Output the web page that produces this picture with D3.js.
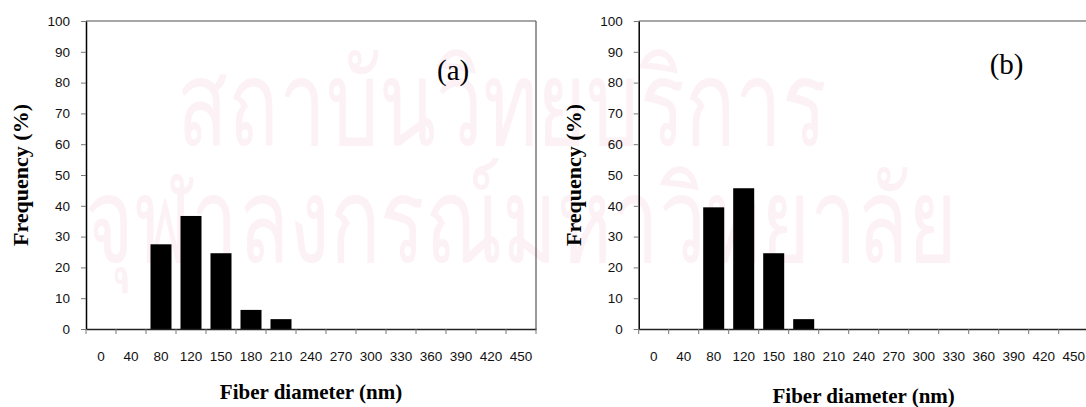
<!DOCTYPE html>
<html>
<head>
<meta charset="utf-8">
<script src="https://cdn.jsdelivr.net/npm/d3@7"></script>
<style>
  body { margin: 0; background: #fff; }
  svg { display: block; }
</style>
</head>
<body>
<svg id="chart" width="1086" height="407"></svg>
<script>
////////// data
var categories = ["0","40","80","120","150","180","210","240","270","300","330","360","390","420","450"];
var freqA = [0, 0, 27.5, 36.7, 24.6, 6.2, 3.2, 0, 0, 0, 0, 0, 0, 0, 0];
var freqB = [0, 0, 39.5, 45.7, 24.6, 3.2, 0, 0, 0, 0, 0, 0, 0, 0, 0];
var yTicks = [0, 10, 20, 30, 40, 50, 60, 70, 80, 90, 100];
var panelLabels = ["(a)", "(b)"];
var watermark = ["สถาบันวิทยบริการ", "จุฬาลงกรณ์มหาวิทยาลัย"];

var svg = d3.select("#chart");
var W = 450, H = 308, TOP = 21;

// faint watermark behind everything (scanned page)
svg.append("text")
  .attr("x", 177).attr("y", 145)
  .attr("textLength", 650).attr("lengthAdjust", "spacingAndGlyphs")
  .style("font-family", "'Noto Sans', 'DejaVu Sans', sans-serif")
  .style("font-size", "119px")
  .style("fill", "#fcf1f5")
  .text(watermark[0]);
svg.append("text")
  .attr("x", 85).attr("y", 262)
  .attr("textLength", 872).attr("lengthAdjust", "spacingAndGlyphs")
  .style("font-family", "'Noto Sans', 'DejaVu Sans', sans-serif")
  .style("font-size", "119px")
  .style("fill", "#fcf1f5")
  .text(watermark[1]);

function drawPanel(left, values, label, labelY, titleY) {
  var g = svg.append("g").attr("transform", "translate(" + left + "," + TOP + ")");

  var x = d3.scaleBand().domain(categories).range([0, W])
    .paddingInner(0.3).paddingOuter(0.15);
  var y = d3.scaleLinear().domain([0, 100]).range([H, 0]);

  // frame top/right in grey
  g.append("line").attr("x1", 0).attr("x2", W).attr("y1", 0).attr("y2", 0)
    .attr("stroke", "#888").attr("stroke-width", 1.3);
  g.append("line").attr("x1", W).attr("x2", W).attr("y1", 0).attr("y2", H)
    .attr("stroke", "#555").attr("stroke-width", 1.2);

  // bars
  g.selectAll(".bar")
    .data(values)
    .enter().append("rect")
    .attr("x", function(d, i) { return x(categories[i]); })
    .attr("y", function(d) { return y(d); })
    .attr("width", x.bandwidth())
    .attr("height", function(d) { return H - y(d); })
    .attr("fill", "#000");

  // y axis
  var yAxis = g.append("g")
    .call(d3.axisLeft(y).tickValues(yTicks).tickSize(5).tickPadding(11).tickSizeOuter(0));
  yAxis.select(".domain").attr("stroke", "#000").attr("stroke-width", 1.5);
  yAxis.selectAll(".tick line").attr("stroke", "#777");
  yAxis.selectAll("text")
    .style("font-family", "'Liberation Sans', Arial, sans-serif")
    .style("font-size", "13.5px").attr("fill", "#111");

  // x axis: labels at band centres, ticks at band edges
  var xAxis = g.append("g").attr("transform", "translate(0," + H + ")")
    .call(d3.axisBottom(x).tickSize(0).tickPadding(22).tickSizeOuter(0));
  xAxis.select(".domain").attr("stroke", "#222").attr("stroke-width", 1.3);
  xAxis.selectAll("text")
    .style("font-family", "'Liberation Sans', Arial, sans-serif")
    .style("font-size", "13.5px").attr("fill", "#111");
  xAxis.selectAll(".edge")
    .data(d3.range(categories.length + 1))
    .enter().append("line")
    .attr("x1", function(i) { return i * x.step(); })
    .attr("x2", function(i) { return i * x.step(); })
    .attr("y1", 0).attr("y2", 5)
    .attr("stroke", "#777");

  // titles
  svg.append("text")
    .attr("transform", "translate(" + (left - 58) + "," + (TOP + H / 2) + ") rotate(-90)")
    .style("text-anchor", "middle")
    .style("font-family", "'Liberation Serif', 'Times New Roman', serif")
    .style("font-weight", "bold").style("font-size", "22px")
    .text("Frequency (%)");
  svg.append("text")
    .attr("x", left + W / 2).attr("y", titleY)
    .style("text-anchor", "middle")
    .style("font-family", "'Liberation Serif', 'Times New Roman', serif")
    .style("font-weight", "bold").style("font-size", "21px")
    .text("Fiber diameter (nm)");

  // panel letter
  svg.append("text")
    .attr("x", left + 351).attr("y", labelY)
    .style("font-family", "'Liberation Serif', 'Times New Roman', serif")
    .style("font-size", "29px")
    .text(label);
}

drawPanel(86, freqA, panelLabels[0], 80, 399);
drawPanel(638.7, freqB, panelLabels[1], 74, 403);
</script>
</body>
</html>
